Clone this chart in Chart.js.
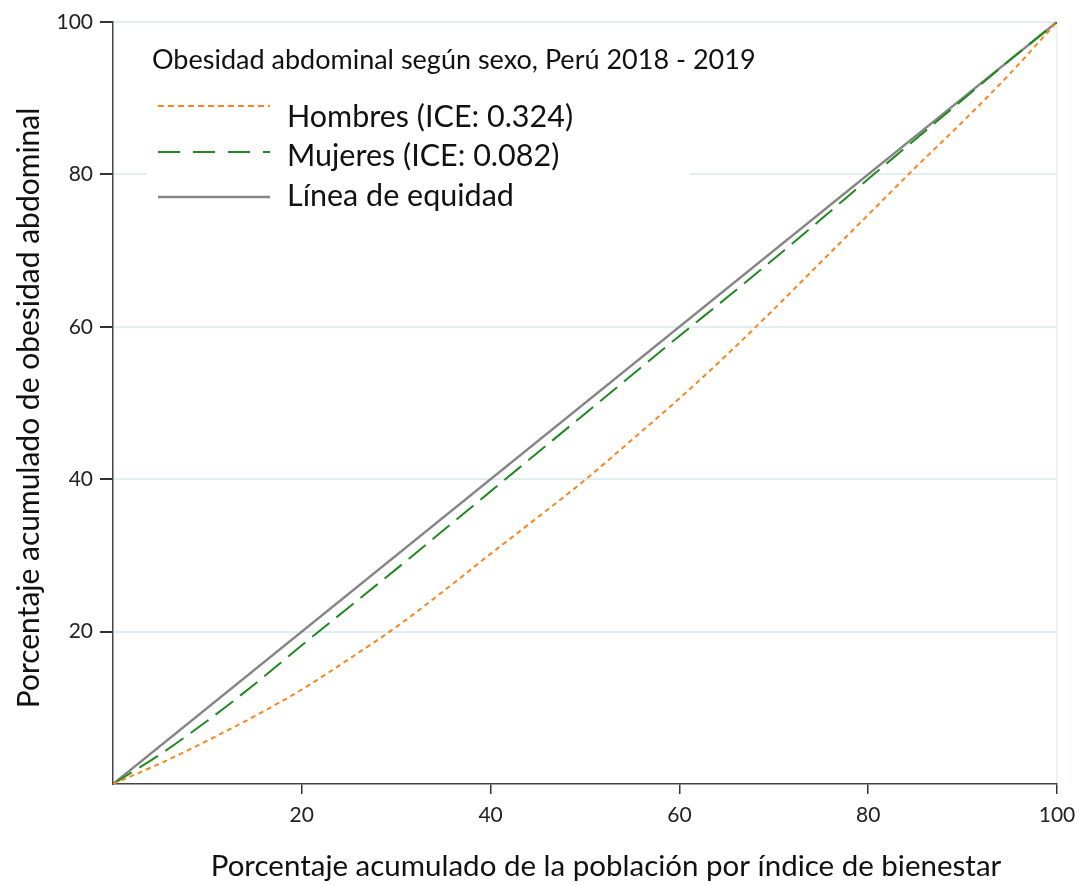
<!DOCTYPE html>
<html>
<head>
<meta charset="utf-8">
<script src="https://cdn.jsdelivr.net/npm/chart.js@4"></script>
<style>
  html, body { margin: 0; padding: 0; background: #fff; }
  #wrap { width: 1081px; height: 885px; position: relative; }
</style>
</head>
<body>
<div id="wrap"><canvas id="lorenz"></canvas></div>
<script>
// cumulative % of population (x) and cumulative % of abdominal obesity (y)
const poblacion = [0, 5, 10, 15, 20, 25, 30, 35, 40, 45, 50, 55, 60, 65, 70, 75, 80, 85, 90, 95, 100];
const hombres = [0, 2.7, 5.7, 8.9, 12.4, 16.4, 20.6, 25.3, 30.2, 35.0, 39.9, 45.2, 50.6, 56.3, 62.3, 68.5, 74.7, 80.9, 86.9, 93.2, 100];
const mujeres = [0, 3.9, 8.3, 13.1, 18.2, 23.2, 28.2, 33.3, 38.4, 43.5, 48.6, 53.7, 58.8, 63.8, 68.9, 74.1, 79.4, 84.6, 89.8, 95.0, 100];
const equidadX = [0, 100];
const equidadY = [0, 100];
const xTicks = [20, 40, 60, 80, 100];
const yTicks = [20, 40, 60, 80, 100];

const legendTitle = 'Obesidad abdominal según sexo, Perú 2018 - 2019';
const xTitle = 'Porcentaje acumulado de la población por índice de bienestar';
const yTitle = 'Porcentaje acumulado de obesidad abdominal';
const FONT = "Lato, 'Open Sans', sans-serif";

function toPoints(xs, ys) {
    return xs.map((x, i) => ({ x: x, y: ys[i] }));
}

// legend inside the plot on a white box, plus the two axis titles
const annotations = {
    id: 'annotations',
    afterDraw(chart) {
        const ctx = chart.ctx;
        ctx.save();
        ctx.fillStyle = '#fff';
        ctx.fillRect(146, 32, 544, 192);

        ctx.fillStyle = '#111';
        ctx.textBaseline = 'middle';
        ctx.font = '27px ' + FONT;
        ctx.fillText(legendTitle, 152, 60);

        const rows = [
            { y: 117, lineY: 106, ds: chart.data.datasets[0] },
            { y: 156, lineY: 152, ds: chart.data.datasets[1] },
            { y: 196, lineY: 197, ds: chart.data.datasets[2] }
        ];
        ctx.font = '30.5px ' + FONT;
        rows.forEach(r => {
            ctx.beginPath();
            ctx.strokeStyle = r.ds.borderColor;
            ctx.lineWidth = r.ds.borderWidth;
            ctx.setLineDash(r.ds.legendDash || []);
            ctx.moveTo(158, r.lineY);
            ctx.lineTo(270, r.lineY);
            ctx.stroke();
            ctx.setLineDash([]);
            ctx.fillStyle = '#111';
            ctx.fillText(r.ds.label, 287, r.y);
        });

        // axis titles
        ctx.fillStyle = '#111';
        ctx.textAlign = 'center';
        ctx.font = '29.5px ' + FONT;
        ctx.fillText(xTitle, 606, 866);
        ctx.translate(29, 408);
        ctx.rotate(-Math.PI / 2);
        ctx.font = '30px ' + FONT;
        ctx.fillText(yTitle, 0, 0);
        ctx.restore();
    }
};

const ctx = document.getElementById('lorenz').getContext('2d');
new Chart(ctx, {
    type: 'line',
    data: {
        datasets: [
            {
                label: 'Hombres (ICE: 0.324)',
                data: toPoints(poblacion, hombres),
                borderColor: '#f7861e',
                borderWidth: 2,
                borderDash: [5, 4],
                legendDash: [6, 4],
                pointRadius: 0,
                cubicInterpolationMode: 'monotone'
            },
            {
                label: 'Mujeres (ICE: 0.082)',
                data: toPoints(poblacion, mujeres),
                borderColor: '#1f8a1f',
                borderWidth: 2,
                borderDash: [22, 9],
                legendDash: [22, 13],
                pointRadius: 0,
                cubicInterpolationMode: 'monotone'
            },
            {
                label: 'Línea de equidad',
                data: toPoints(equidadX, equidadY),
                borderColor: '#858585',
                borderWidth: 2.5,
                pointRadius: 0
            }
        ]
    },
    options: {
        responsive: true,
        maintainAspectRatio: false,
        animation: false,
        layout: { padding: { top: 22, right: 24, left: 0, bottom: 0 } },
        plugins: {
            legend: { display: false },
            tooltip: { enabled: false }
        },
        scales: {
            x: {
                type: 'linear',
                min: 0,
                max: 100,
                afterBuildTicks: s => { s.ticks = xTicks.map(v => ({ value: v })); },
                afterFit: s => { s.height = 101; s.paddingLeft = 0; s.paddingRight = 0; },
                ticks: {
                    color: '#222',
                    padding: 9,
                    font: { family: FONT, size: 21 }
                },
                grid: {
                    color: c => c.tick && c.tick.value === 100 ? '#e8f0f2' : 'rgba(0,0,0,0)',
                    tickColor: '#333',
                    tickLength: 10,
                    lineWidth: 1.5
                },
                border: { color: '#444', width: 1.5 }
            },
            y: {
                min: 0,
                max: 100,
                afterBuildTicks: s => { s.ticks = yTicks.map(v => ({ value: v })); },
                afterFit: s => { s.width = 113; s.paddingTop = 0; s.paddingBottom = 0; },
                ticks: {
                    color: '#222',
                    padding: 7,
                    font: { family: FONT, size: 21 }
                },
                grid: {
                    color: '#e3ecef',
                    tickColor: '#333',
                    tickLength: 13,
                    lineWidth: 2
                },
                border: { color: '#444', width: 1.5 }
            }
        }
    },
    plugins: [annotations]
});
</script>
</body>
</html>
